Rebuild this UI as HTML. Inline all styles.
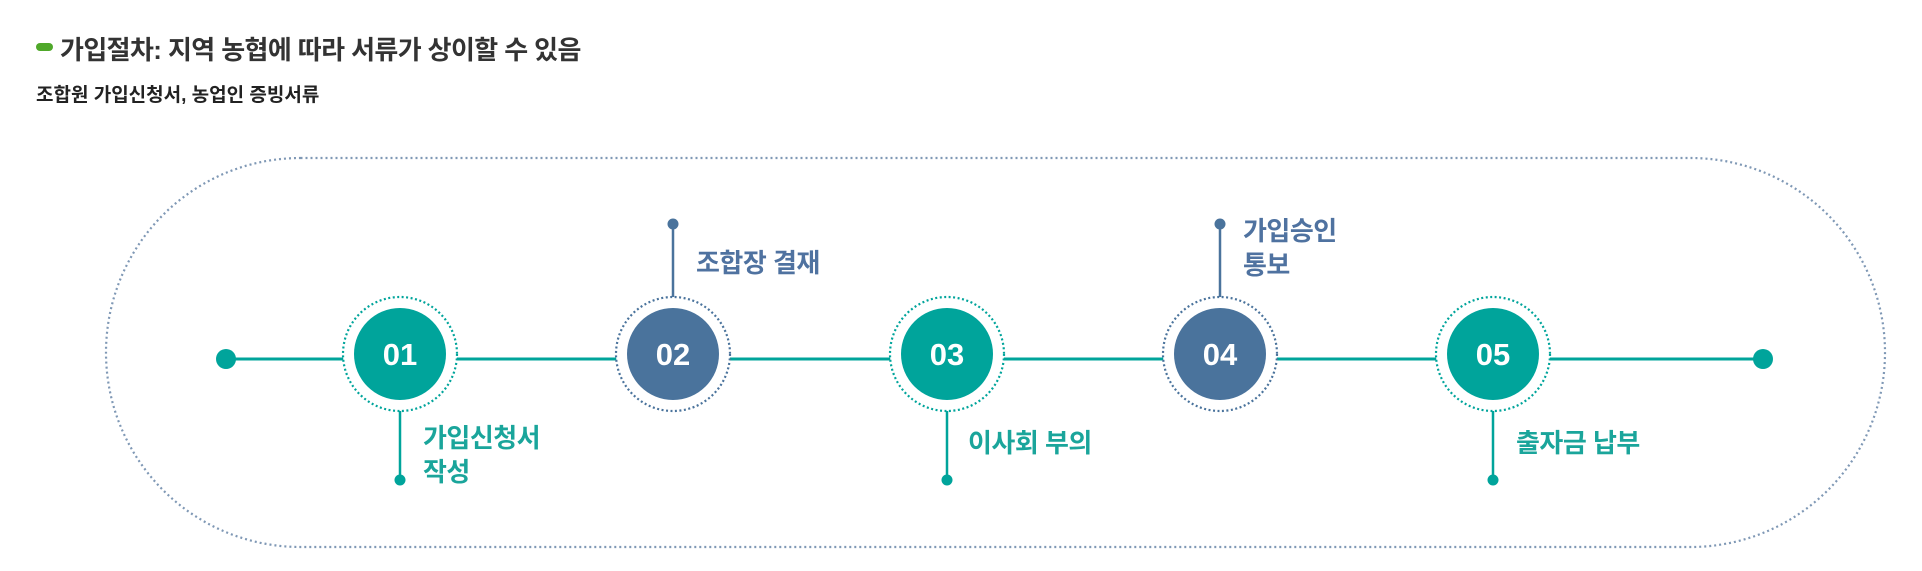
<!DOCTYPE html>
<html><head><meta charset="utf-8"><style>
html,body{margin:0;padding:0;background:#fff;width:1922px;height:571px;overflow:hidden}
body{position:relative;font-family:"Liberation Sans","Noto Sans CJK KR",sans-serif}
.t{position:absolute;white-space:nowrap;font-weight:bold}
</style></head><body>
<div style="position:absolute;left:36px;top:43px;width:17px;height:8px;border-radius:4px;background:#4fa82a"></div>
<div class="t" style="left:60px;top:30px;font-size:26px;color:#333;letter-spacing:-0.6px">가입절차: 지역 농협에 따라 서류가 상이할 수 있음</div>
<div class="t" style="left:36px;top:80px;font-size:19px;color:#222;letter-spacing:0px">조합원 가입신청서, 농업인 증빙서류</div>
<svg width="1922" height="571" style="position:absolute;left:0;top:0">
<rect x="106" y="158" width="1779" height="389" rx="194.5" fill="none" stroke="#7f98b5" stroke-width="2.2" stroke-dasharray="2 3"/>
<line x1="226" y1="359" x2="1763" y2="359" stroke="#00a49b" stroke-width="3"/>
<circle cx="226" cy="359" r="10" fill="#00a49b"/>
<circle cx="1763" cy="359" r="10" fill="#00a49b"/>
<g stroke-width="2.5">
<line x1="400" y1="410" x2="400" y2="480" stroke="#00a49b"/>
<line x1="673" y1="224" x2="673" y2="297" stroke="#4a739c"/>
<line x1="947" y1="410" x2="947" y2="480" stroke="#00a49b"/>
<line x1="1220" y1="224" x2="1220" y2="297" stroke="#4a739c"/>
<line x1="1493" y1="410" x2="1493" y2="480" stroke="#00a49b"/>
</g>
<circle cx="400" cy="480" r="5.5" fill="#00a49b"/>
<circle cx="673" cy="224" r="5.5" fill="#4a739c"/>
<circle cx="947" cy="480" r="5.5" fill="#00a49b"/>
<circle cx="1220" cy="224" r="5.5" fill="#4a739c"/>
<circle cx="1493" cy="480" r="5.5" fill="#00a49b"/>
<g font-family="Liberation Sans, sans-serif" font-size="31" font-weight="bold" fill="#fff" text-anchor="middle">
<circle cx="400" cy="354" r="57" fill="#fff" stroke="#00a49b" stroke-width="2.2" stroke-dasharray="2 2.5"/>
<circle cx="400" cy="354" r="46" fill="#00a49b"/><text x="400" y="365">01</text>
<circle cx="673" cy="354" r="57" fill="#fff" stroke="#4a739c" stroke-width="2.2" stroke-dasharray="2 2.5"/>
<circle cx="673" cy="354" r="46" fill="#4a739c"/><text x="673" y="365">02</text>
<circle cx="947" cy="354" r="57" fill="#fff" stroke="#00a49b" stroke-width="2.2" stroke-dasharray="2 2.5"/>
<circle cx="947" cy="354" r="46" fill="#00a49b"/><text x="947" y="365">03</text>
<circle cx="1220" cy="354" r="57" fill="#fff" stroke="#4a739c" stroke-width="2.2" stroke-dasharray="2 2.5"/>
<circle cx="1220" cy="354" r="46" fill="#4a739c"/><text x="1220" y="365">04</text>
<circle cx="1493" cy="354" r="57" fill="#fff" stroke="#00a49b" stroke-width="2.2" stroke-dasharray="2 2.5"/>
<circle cx="1493" cy="354" r="46" fill="#00a49b"/><text x="1493" y="365">05</text>
</g>
</svg>
<div class="t" style="left:423px;top:421px;font-size:26px;line-height:34px;color:#1aa59b;letter-spacing:-0.5px">가입신청서<br>작성</div>
<div class="t" style="left:696px;top:243px;font-size:26px;color:#4f72a0;letter-spacing:-0.5px">조합장 결재</div>
<div class="t" style="left:968px;top:423px;font-size:26px;color:#1aa59b;letter-spacing:-0.5px">이사회 부의</div>
<div class="t" style="left:1243px;top:214px;font-size:26px;line-height:34px;color:#4f72a0;letter-spacing:-0.5px">가입승인<br>통보</div>
<div class="t" style="left:1516px;top:423px;font-size:26px;color:#1aa59b;letter-spacing:-0.5px">출자금 납부</div>
</body></html>
